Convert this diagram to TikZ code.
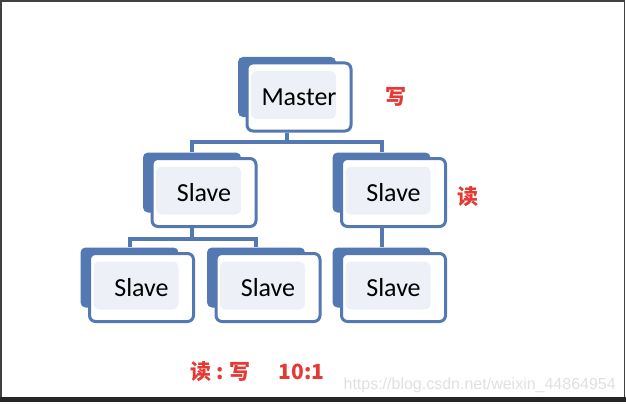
\documentclass[tikz,border=0pt]{standalone}
\usepackage{fontspec}
\setmainfont{Carlito}
\newfontfamily\cjkfont{Noto Sans CJK SC}
\newfontfamily\urlfont{Liberation Sans}
\usetikzlibrary{positioning}

\definecolor{boxblue}{RGB}{84,120,178}
\definecolor{innerfill}{RGB}{237,241,247}
\definecolor{notered}{RGB}{229,57,53}
\definecolor{markgray}{RGB}{224,224,224}

\begin{document}
\begin{tikzpicture}[
    x=1pt, y=-1pt,
    backbox/.style={rectangle, rounded corners=5pt, fill=boxblue, minimum width=98pt, minimum height=60pt, inner sep=0pt},
    frontbox/.style={rectangle, rounded corners=6pt, draw=boxblue, line width=3pt, fill=white, minimum width=104pt, minimum height=68pt, inner sep=0pt, font=\fontsize{26}{30}\selectfont,
        path picture={\fill[innerfill] ([shift={(4pt,-8pt)}]path picture bounding box.north west) rectangle ([shift={(-15pt,12pt)}]path picture bounding box.south east);}},
    link/.style={draw=boxblue, line width=4pt},
    note/.style={text=notered, inner sep=0pt, font=\cjkfont\bfseries\fontsize{21}{24}\selectfont}
]
\useasboundingbox (0,0) rectangle (626,404);

% Frame
\draw[black!75, line width=1.5pt] (1,1) rectangle (624.5,398);
\fill[black!85] (0,397) rectangle (626,402);

% Boxes
\node[backbox] (master-b) at (287,87) {};
\node[frontbox] (master) at ([shift={(12,10)}]master-b) {Master\hspace{4pt}};
\node[backbox] (slave1-b) at (192,182.5) {};
\node[frontbox] (slave1) at ([shift={(12,10)}]slave1-b) {Slave\hspace{6pt}};
\node[backbox] (slave2-b) at (381.5,182.5) {};
\node[frontbox] (slave2) at ([shift={(12,10)}]slave2-b) {Slave\hspace{6pt}};
\node[backbox] (slave11-b) at (129.5,277.5) {};
\node[frontbox] (slave11) at ([shift={(12,10)}]slave11-b) {Slave\hspace{6pt}};
\node[backbox] (slave12-b) at (256,277.5) {};
\node[frontbox] (slave12) at ([shift={(12,10)}]slave12-b) {Slave\hspace{6pt}};
\node[backbox] (slave21-b) at (381.5,277.5) {};
\node[frontbox] (slave21) at ([shift={(12,10)}]slave21-b) {Slave\hspace{6pt}};

% Links
\draw[link] (master-b |- master.south) -- ++(0,9) coordinate (fork1);
\draw[link] (slave1-b.north) |- (fork1) -| (slave2-b.north);
\draw[link] (slave1-b |- slave1.south) -- ++(0,11) coordinate (fork2);
\draw[link] (slave11-b.north) |- (fork2) -| (slave12-b.north);
\draw[link] (slave2-b |- slave2.south) -- (slave21-b.north);

% Notes
\node[note, right=33pt of master] (write) {写};
\node[note, right=10pt of slave2, yshift=-4pt] (read) {读};
\node[note, anchor=west] (ratio) at (190,372) {读 : 写\hspace{28pt}10:1};
\node[anchor=east, inner sep=0pt, text=markgray, font=\urlfont\fontsize{16}{18}\selectfont] (mark) at (616,385) {https://blog.csdn.net/weixin\_44864954};

\end{tikzpicture}
\end{document}
